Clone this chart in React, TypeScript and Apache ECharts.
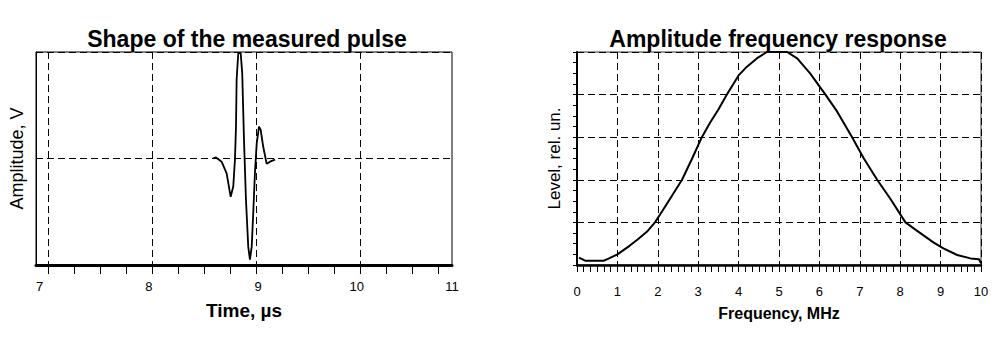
import React, { useEffect, useRef } from "react";
import * as echarts from "echarts";

// ---- Data ----
const pulseTime = [8.584, 8.615, 8.670, 8.718, 8.757, 8.782, 8.798, 8.808, 8.814, 8.830, 8.853, 8.868, 8.885, 8.904, 8.926, 8.942, 8.959, 8.974, 8.990, 9.007, 9.029, 9.045, 9.070, 9.103, 9.135, 9.183];
const pulseAmp = [0.0, 0.01, -0.03, -0.14, -0.36, -0.26, -0.01, 0.30, 0.74, 0.99, 0.99, 0.80, 0.17, -0.39, -0.83, -0.95, -0.83, -0.51, -0.14, 0.14, 0.30, 0.27, 0.11, -0.05, -0.03, -0.01];

const freq = [0.05, 0.2, 0.66, 0.78, 1.0, 1.3, 1.5, 1.75, 1.93, 2.1, 2.3, 2.6, 2.85, 3.09, 3.3, 3.5, 3.71, 4.0, 4.2, 4.45, 4.7, 5.2, 5.45, 5.77, 6.15, 6.44, 6.81, 7.1, 7.43, 7.76, 8.13, 8.42, 8.83, 9.07, 9.41, 9.74, 9.95, 10.0];
const level = [0.035, 0.02, 0.02, 0.03, 0.05, 0.09, 0.12, 0.16, 0.2, 0.25, 0.31, 0.4, 0.5, 0.6, 0.67, 0.73, 0.8, 0.89, 0.93, 0.97, 1.0, 1.0, 0.97, 0.9, 0.8, 0.72, 0.6, 0.5, 0.4, 0.31, 0.2, 0.16, 0.105, 0.078, 0.047, 0.031, 0.027, 0.008];

const timeMin = 6.885;
const timeMax = 10.885;
const timeLabelValues = [6.92, 7.97, 9.02, 9.97, 10.885];
const timeLabelTexts = ["7", "8", "9", "10", "11"];
const timeGridValues = [7, 8, 9, 10];
const timeTickValues = [7, 7.25, 7.5, 7.75, 8, 8.25, 8.5, 8.75, 9, 9.25, 9.5, 9.75, 10, 10.25, 10.5, 10.75];

const FONT = "'Liberation Sans', Arial, sans-serif";
const NARROW = "'Liberation Sans Narrow', 'Arial Narrow', 'Liberation Sans', Arial, sans-serif";
const dash = () => ({ color: "#000", width: 1, type: [7, 4] });
const TICK = "#000";

export default function App() {
  const ref = useRef<HTMLDivElement>(null);
  useEffect(() => {
    if (!ref.current) return;
    const chart = echarts.init(ref.current, null, { renderer: "svg" });
    chart.setOption({
      animation: false,
      backgroundColor: "#fff",
      title: [
        { text: "Shape of the measured pulse", left: 242, top: 22, textAlign: "center",
          textStyle: { fontFamily: FONT, fontWeight: "bold", fontSize: 23, color: "#000" } },
        { text: "Amplitude frequency response", left: 773, top: 22, textAlign: "center",
          textStyle: { fontFamily: FONT, fontWeight: "bold", fontSize: 23, color: "#000" } },
      ],
      grid: [
        { left: 36, top: 52, width: 416, height: 213, show: true, borderColor: "#000", borderWidth: 1, backgroundColor: "transparent" },
        { left: 577, top: 52, width: 404, height: 213, show: true, borderColor: "#333", borderWidth: 1, backgroundColor: "transparent" },
      ],
      xAxis: [
        {
          type: "value", gridIndex: 0, min: timeMin, max: timeMax, position: "bottom",
          name: "Time, µs", nameLocation: "middle", nameGap: 36,
          nameTextStyle: { fontFamily: FONT, fontWeight: "bold", fontSize: 19, color: "#000" },
          axisLine: { show: true, onZero: false, lineStyle: { color: "#000", width: 3 } },
          axisTick: { show: true, inside: false, customValues: timeTickValues, length: 9, lineStyle: { color: TICK, width: 1 } },
          axisLabel: { show: true, customValues: timeLabelValues,
            formatter: (v: number) => timeLabelTexts[timeLabelValues.indexOf(v)] ?? String(Math.round(v)),
            margin: 15, fontFamily: NARROW, fontSize: 13, color: "#000" },
          splitLine: { show: false },
        },
        {
          type: "value", gridIndex: 0, min: timeMin, max: timeMax, position: "top",
          axisLine: { show: false, onZero: false }, axisLabel: { show: false },
          axisTick: { show: false, customValues: timeGridValues },
          splitLine: { show: true, lineStyle: dash() },
        },
        {
          type: "value", gridIndex: 1, min: 0, max: 10, interval: 1, position: "bottom",
          name: "Frequency, MHz", nameLocation: "middle", nameGap: 40,
          nameTextStyle: { fontFamily: FONT, fontWeight: "bold", fontSize: 16, color: "#000" },
          axisLine: { show: true, onZero: false, lineStyle: { color: "#000", width: 2.5 } },
          axisTick: { show: true, inside: false, length: 7, lineStyle: { color: TICK, width: 1 } },
          minorTick: { show: true, splitNumber: 6, length: 7, lineStyle: { color: TICK, width: 1 } },
          axisLabel: { show: true, margin: 20, fontFamily: NARROW, fontSize: 13, color: "#000" },
          splitLine: { show: true, lineStyle: dash() },
        },
      ],
      yAxis: [
        {
          type: "value", gridIndex: 0, min: -1, max: 1, interval: 1, position: "left",
          name: "Amplitude, V", nameLocation: "middle", nameGap: 10,
          nameTextStyle: { fontFamily: FONT, fontSize: 18, color: "#000" },
          axisLine: { show: true, onZero: false, lineStyle: { color: "#000", width: 1 } },
          axisTick: { show: false }, axisLabel: { show: false },
          splitLine: { show: true, lineStyle: dash() },
        },
        {
          type: "value", gridIndex: 1, min: 0, max: 1, interval: 0.2, position: "left",
          name: "Level, rel. un.", nameLocation: "middle", nameGap: 14,
          nameTextStyle: { fontFamily: FONT, fontSize: 17, color: "#000" },
          axisLine: { show: true, onZero: false, lineStyle: { color: "#000", width: 2 } },
          axisTick: { show: true, length: 4, lineStyle: { color: "#000", width: 1 } },
          minorTick: { show: true, splitNumber: 4, length: 4, lineStyle: { color: "#000", width: 1 } },
          axisLabel: { show: false },
          splitLine: { show: true, lineStyle: dash() },
        },
      ],
      series: [
        {
          type: "line", xAxisIndex: 0, yAxisIndex: 0, showSymbol: false, symbol: "none",
          data: pulseTime.map((t, i) => [t, pulseAmp[i]]),
          lineStyle: { color: "#000", width: 1.8 },
        },
        {
          type: "line", xAxisIndex: 2, yAxisIndex: 1, showSymbol: false, symbol: "none",
          data: freq.map((f, i) => [f, level[i]]),
          lineStyle: { color: "#000", width: 2 },
        },
      ],
    });
    return () => chart.dispose();
  }, []);
  return <div ref={ref} style={{ position: "fixed", left: 0, top: 0, width: 1004, height: 352 }} />;
}
